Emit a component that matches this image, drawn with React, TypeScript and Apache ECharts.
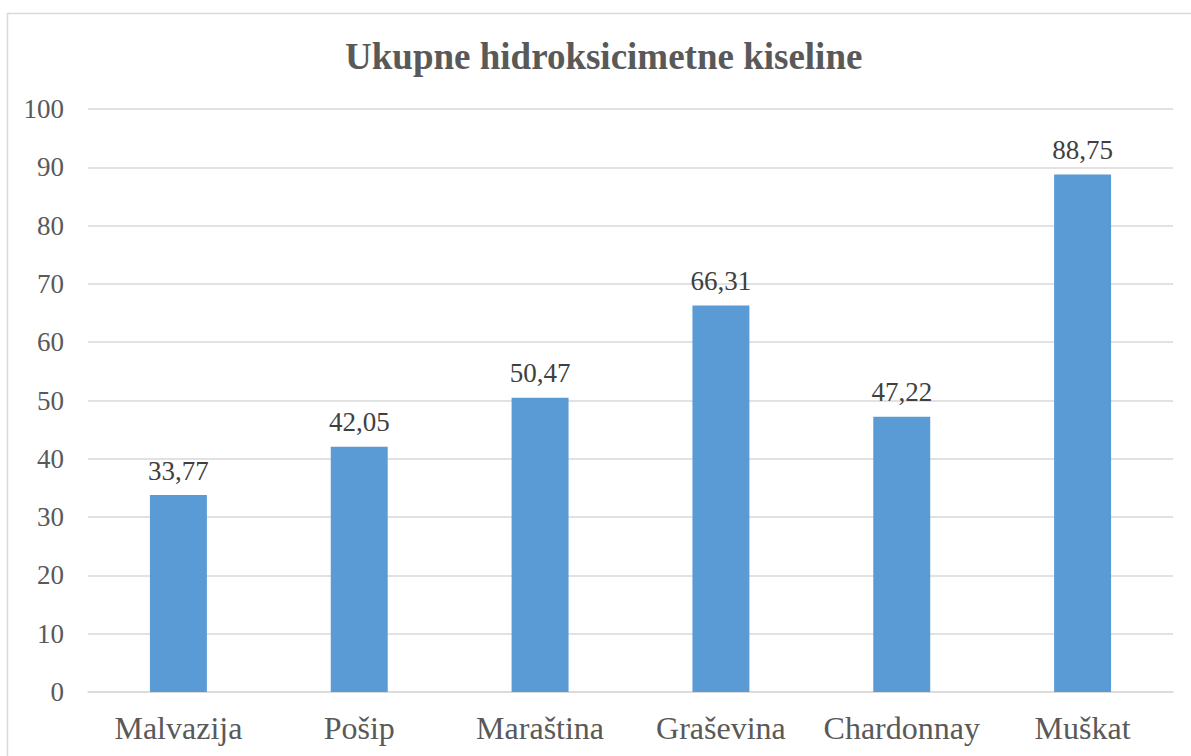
import React, { useEffect, useRef } from "react";
import * as echarts from "echarts";

const categories = ["Malvazija", "Pošip", "Maraština", "Graševina", "Chardonnay", "Muškat"];
const values = [33.77, 42.05, 50.47, 66.31, 47.22, 88.75];
const titleText = "Ukupne hidroksicimetne kiseline";

export default function App() {
  const ref = useRef<HTMLDivElement>(null);
  useEffect(() => {
    if (!ref.current) return;
    const chart = echarts.init(ref.current, undefined, { renderer: "svg" });
    const font = "'Liberation Serif', 'Times New Roman', serif";
    chart.setOption({
      animation: false,
      backgroundColor: "#ffffff",
      title: {
        text: titleText,
        left: 345,
        top: 38,
        padding: 0,
        textStyle: { fontFamily: font, fontSize: 37, fontWeight: "bold", color: "#595959" },
      },
      graphic: [
        {
          type: "rect",
          shape: { x: 7.5, y: 13.5, width: 1300, height: 900 },
          style: { fill: "none", stroke: "#d9d9d9", lineWidth: 1.5 },
          silent: true,
        },
      ],
      grid: { left: 88, right: 18, top: 109, bottom: 64, containLabel: false },
      xAxis: {
        type: "category",
        data: categories,
        axisLine: { lineStyle: { color: "#d9d9d9", width: 1.5 } },
        axisTick: { show: false },
        axisLabel: { interval: 0, fontFamily: font, fontSize: 32, color: "#595959", margin: 20 },
      },
      yAxis: {
        type: "value",
        min: 0,
        max: 100,
        interval: 10,
        axisLine: { show: false },
        axisTick: { show: false },
        splitLine: { lineStyle: { color: "#d9d9d9", width: 1.5 } },
        axisLabel: { fontFamily: font, fontSize: 27, color: "#595959", margin: 24 },
      },
      series: [
        {
          type: "bar",
          data: values,
          barWidth: "31.5%",
          itemStyle: { color: "#5b9bd5" },
          label: {
            show: true,
            position: "top",
            distance: 11,
            fontFamily: font,
            fontSize: 27,
            color: "#404040",
            formatter: (p: any) => p.value.toFixed(2).replace(".", ","),
          },
        },
      ],
    });
    return () => chart.dispose();
  }, []);
  return (
    <div
      ref={ref}
      style={{ position: "absolute", left: 0, top: 0, width: 1191, height: 756 }}
    />
  );
}
